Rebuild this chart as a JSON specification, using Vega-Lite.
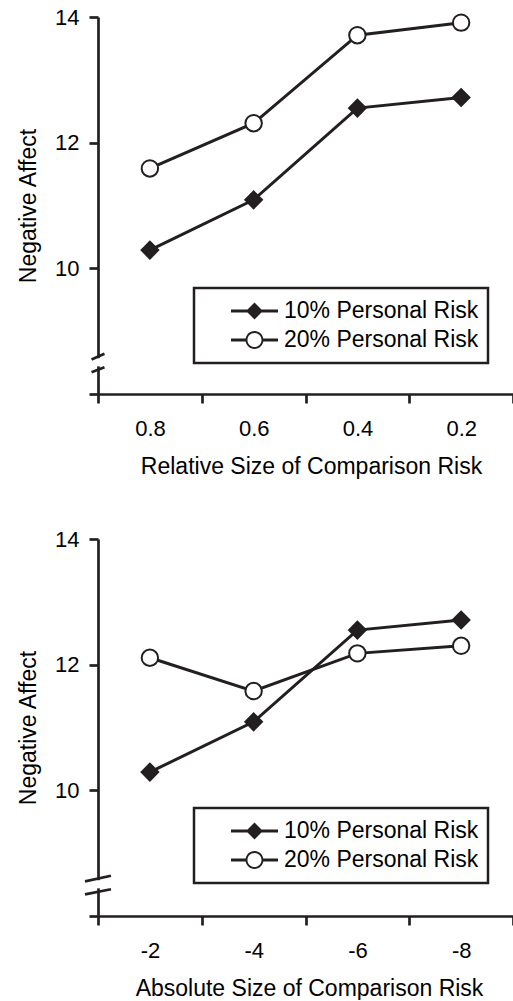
{
  "$schema": "https://vega.github.io/schema/vega-lite/v6.json",
  "background": "white",
  "padding": {"left": 17, "top": 6, "right": 0, "bottom": 0},
  "spacing": 50,
  "datasets": {
    "relative": [
      {"size": 0.8, "series": "10% Personal Risk", "affect": 10.29},
      {"size": 0.6, "series": "10% Personal Risk", "affect": 11.09},
      {"size": 0.4, "series": "10% Personal Risk", "affect": 12.55},
      {"size": 0.2, "series": "10% Personal Risk", "affect": 12.72},
      {"size": 0.8, "series": "20% Personal Risk", "affect": 11.59},
      {"size": 0.6, "series": "20% Personal Risk", "affect": 12.31},
      {"size": 0.4, "series": "20% Personal Risk", "affect": 13.71},
      {"size": 0.2, "series": "20% Personal Risk", "affect": 13.91}
    ],
    "absolute": [
      {"size": -2, "series": "10% Personal Risk", "affect": 10.29},
      {"size": -4, "series": "10% Personal Risk", "affect": 11.09},
      {"size": -6, "series": "10% Personal Risk", "affect": 12.55},
      {"size": -8, "series": "10% Personal Risk", "affect": 12.71},
      {"size": -2, "series": "20% Personal Risk", "affect": 12.11},
      {"size": -4, "series": "20% Personal Risk", "affect": 11.58},
      {"size": -6, "series": "20% Personal Risk", "affect": 12.18},
      {"size": -8, "series": "20% Personal Risk", "affect": 12.30}
    ]
  },
  "resolve": {
    "scale": {"x": "independent", "y": "independent", "shape": "independent"},
    "legend": {"shape": "independent"}
  },
  "vconcat": [
    {
      "width": 415,
      "height": 377,
      "data": {"name": "relative"},
      "layer": [
        {
          "mark": {"type": "line", "color": "#231f20", "strokeWidth": 3},
          "encoding": {
            "x": {"field": "size", "type": "quantitative",
              "scale": {"domain": [0.1, 0.9], "reverse": true, "nice": false, "zero": false},
              "axis": {"title": "Relative Size of Comparison Risk", "values": [0.9, 0.7, 0.5, 0.3, 0.1],
                "labelExpr": "datum.value < 0.15 ? '' : format(datum.value - 0.1, '.1f')",
                "labelOffset": 52, "labelPadding": 15, "titlePadding": 16, "titleX": 213}},
            "y": {"field": "affect", "type": "quantitative",
              "scale": {"domain": [8, 14], "nice": false, "zero": false},
              "axis": {"title": "Negative Affect", "values": [8, 10, 12, 14],
                "labelExpr": "datum.value == 8 ? '' : '' + datum.value",
                "labelPadding": 10, "titlePadding": 14}},
            "detail": {"field": "series"}
          }
        },
        {
          "mark": {"type": "point", "stroke": "#231f20", "strokeWidth": 2, "opacity": 1},
          "encoding": {
            "x": {"field": "size", "type": "quantitative"},
            "y": {"field": "affect", "type": "quantitative"},
            "shape": {"condition": {"test": "datum.series === '10% Personal Risk'", "value": "diamond"}, "value": "circle"},
            "fill": {"condition": {"test": "datum.series === '10% Personal Risk'", "value": "#231f20"}, "value": "white"},
            "size": {"condition": {"test": "datum.series === '10% Personal Risk'", "value": 280}, "value": 270}
          }
        },
        {
          "transform": [{"filter": "false"}],
          "mark": {"type": "point", "filled": true, "fill": "#231f20", "strokeWidth": 0, "opacity": 1},
          "encoding": {
            "x": {"field": "size", "type": "quantitative"},
            "y": {"field": "affect", "type": "quantitative"},
            "shape": {"field": "series", "type": "nominal",
              "scale": {"domain": ["10% Personal Risk", "20% Personal Risk"],
                "range": [
                  "M-1,-0.064L1,-0.064L1,0.064L-1,0.064Z M0,-0.36L0.36,0L0,0.36L-0.36,0Z",
                  "M-1,-0.064L-0.37,-0.064L-0.37,0.064L-1,0.064Z M0.37,-0.064L1,-0.064L1,0.064L0.37,0.064Z M-0.38,0A0.38,0.38,0,1,1,0.38,0A0.38,0.38,0,1,1,-0.38,0Z M-0.3,0A0.3,0.3,0,1,0,0.3,0A0.3,0.3,0,1,0,-0.3,0Z"
                ]},
              "legend": {"title": null, "orient": "none", "legendX": 96, "legendY": 271, "direction": "vertical",
                "padding": 9, "strokeColor": "#231f20", "fillColor": "white",
                "symbolSize": 2209, "symbolStrokeWidth": 0, "symbolFillColor": "#231f20",
                "symbolOffset": 28, "labelOffset": 6, "clipHeight": 28, "rowPadding": 1,
                "labelFont": "Liberation Sans", "labelFontSize": 23, "labelColor": "#000", "labelLimit": 400}}
          }
        },
        {
          "data": {"values": [{}]},
          "mark": {"type": "rect", "color": "white"},
          "encoding": {
            "x": {"datum": 0.905, "type": "quantitative"}, "x2": {"datum": 0.895},
            "y": {"datum": 8.44, "type": "quantitative"}, "y2": {"datum": 8.57}
          }
        },
        {
          "data": {"values": [{}]},
          "mark": {"type": "rule", "color": "#231f20", "strokeWidth": 2.7},
          "encoding": {
            "x": {"datum": 0.9125, "type": "quantitative"}, "x2": {"datum": 0.8875},
            "y": {"datum": 8.55, "type": "quantitative"}, "y2": {"datum": 8.64}
          }
        },
        {
          "data": {"values": [{}]},
          "mark": {"type": "rule", "color": "#231f20", "strokeWidth": 2.7},
          "encoding": {
            "x": {"datum": 0.9125, "type": "quantitative"}, "x2": {"datum": 0.8875},
            "y": {"datum": 8.345, "type": "quantitative"}, "y2": {"datum": 8.425}
          }
        }
      ]
    },
    {
      "width": 415,
      "height": 377,
      "data": {"name": "absolute"},
      "layer": [
        {
          "mark": {"type": "line", "color": "#231f20", "strokeWidth": 3},
          "encoding": {
            "x": {"field": "size", "type": "quantitative",
              "scale": {"domain": [-9, -1], "reverse": true, "nice": false, "zero": false},
              "axis": {"title": "Absolute Size of Comparison Risk", "values": [-1, -3, -5, -7, -9],
                "labelExpr": "datum.value < -8.5 ? '' : '' + (datum.value - 1)",
                "labelOffset": 52, "labelPadding": 15, "titlePadding": 16, "titleX": 211}},
            "y": {"field": "affect", "type": "quantitative",
              "scale": {"domain": [8, 14], "nice": false, "zero": false},
              "axis": {"title": "Negative Affect", "values": [8, 10, 12, 14],
                "labelExpr": "datum.value == 8 ? '' : '' + datum.value",
                "labelPadding": 10, "titlePadding": 14}},
            "detail": {"field": "series"}
          }
        },
        {
          "mark": {"type": "point", "stroke": "#231f20", "strokeWidth": 2, "opacity": 1},
          "encoding": {
            "x": {"field": "size", "type": "quantitative"},
            "y": {"field": "affect", "type": "quantitative"},
            "shape": {"condition": {"test": "datum.series === '10% Personal Risk'", "value": "diamond"}, "value": "circle"},
            "fill": {"condition": {"test": "datum.series === '10% Personal Risk'", "value": "#231f20"}, "value": "white"},
            "size": {"condition": {"test": "datum.series === '10% Personal Risk'", "value": 280}, "value": 270}
          }
        },
        {
          "transform": [{"filter": "false"}],
          "mark": {"type": "point", "filled": true, "fill": "#231f20", "strokeWidth": 0, "opacity": 1},
          "encoding": {
            "x": {"field": "size", "type": "quantitative"},
            "y": {"field": "affect", "type": "quantitative"},
            "shape": {"field": "series", "type": "nominal",
              "scale": {"domain": ["10% Personal Risk", "20% Personal Risk"],
                "range": [
                  "M-1,-0.064L1,-0.064L1,0.064L-1,0.064Z M0,-0.36L0.36,0L0,0.36L-0.36,0Z",
                  "M-1,-0.064L-0.37,-0.064L-0.37,0.064L-1,0.064Z M0.37,-0.064L1,-0.064L1,0.064L0.37,0.064Z M-0.38,0A0.38,0.38,0,1,1,0.38,0A0.38,0.38,0,1,1,-0.38,0Z M-0.3,0A0.3,0.3,0,1,0,0.3,0A0.3,0.3,0,1,0,-0.3,0Z"
                ]},
              "legend": {"title": null, "orient": "none", "legendX": 96, "legendY": 269, "direction": "vertical",
                "padding": 9, "strokeColor": "#231f20", "fillColor": "white",
                "symbolSize": 2209, "symbolStrokeWidth": 0, "symbolFillColor": "#231f20",
                "symbolOffset": 28, "labelOffset": 6, "clipHeight": 28, "rowPadding": 1,
                "labelFont": "Liberation Sans", "labelFontSize": 23, "labelColor": "#000", "labelLimit": 400}}
          }
        },
        {
          "data": {"values": [{}]},
          "mark": {"type": "rect", "color": "white"},
          "encoding": {
            "x": {"datum": -0.904, "type": "quantitative"}, "x2": {"datum": -1.096},
            "y": {"datum": 8.44, "type": "quantitative"}, "y2": {"datum": 8.57}
          }
        },
        {
          "data": {"values": [{}]},
          "mark": {"type": "rule", "color": "#231f20", "strokeWidth": 2.7},
          "encoding": {
            "x": {"datum": -0.75, "type": "quantitative"}, "x2": {"datum": -1.25},
            "y": {"datum": 8.55, "type": "quantitative"}, "y2": {"datum": 8.64}
          }
        },
        {
          "data": {"values": [{}]},
          "mark": {"type": "rule", "color": "#231f20", "strokeWidth": 2.7},
          "encoding": {
            "x": {"datum": -0.75, "type": "quantitative"}, "x2": {"datum": -1.25},
            "y": {"datum": 8.345, "type": "quantitative"}, "y2": {"datum": 8.425}
          }
        }
      ]
    }
  ],
  "config": {
    "view": {"stroke": null},
    "font": "Liberation Sans",
    "legend": {"strokeWidth": 2.5},
    "axis": {
      "grid": false,
      "domainColor": "#231f20", "domainWidth": 2.7,
      "tickColor": "#231f20", "tickWidth": 2.7, "tickSize": 9,
      "labelFont": "Liberation Sans", "labelFontSize": 22, "labelColor": "#000",
      "labelFlush": false, "labelOverlap": false,
      "titleFont": "Liberation Sans", "titleFontSize": 23, "titleFontWeight": "normal", "titleColor": "#000"
    }
  }
}
